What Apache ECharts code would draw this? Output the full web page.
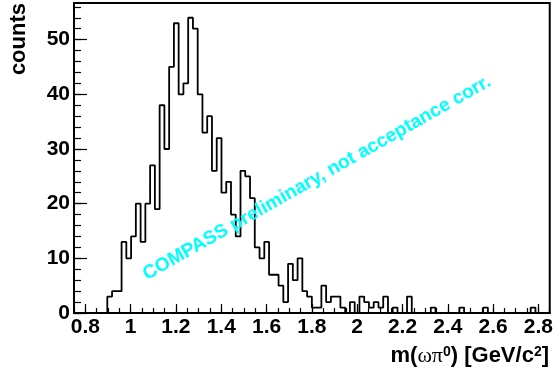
<!DOCTYPE html>
<html>
<head>
<meta charset="utf-8">
<script src="https://cdn.jsdelivr.net/npm/echarts@6.0.0/dist/echarts.min.js"></script>
<style>
  html, body { margin: 0; padding: 0; background: #fff; }
  #chart { width: 556px; height: 377px; }
</style>
</head>
<body>
<div id="chart"></div>
<script>
// m(omega pi0) spectrum: 100 bins between 0.75 and 2.85 GeV/c^2
const massMin = 0.75;
const massMax = 2.85;
const binWidth = 0.021;
const counts = [
  0, 0, 0, 0, 0, 0, 0, 3, 4, 4,
  13, 10, 14, 20, 13, 20, 27, 19, 38, 30,
  45, 53, 40, 42, 54, 52, 40, 33, 36, 26,
  32, 22, 24, 18, 14, 26, 25, 21, 12, 10,
  13, 7, 7, 5, 2, 9, 6, 10, 4, 3,
  1, 1, 5, 2, 3, 3, 1, 0, 2, 0,
  3, 2, 1, 2, 1, 3, 0, 1, 0, 0,
  3, 0, 0, 0, 0, 1, 0, 0, 0, 0,
  0, 1, 0, 0, 0, 0, 1, 0, 0, 0,
  0, 0, 0, 0, 0, 0, 1, 0, 0, 0
];
const yMax = 56.7;
const xTickLabels = [0.8, 1.0, 1.2, 1.4, 1.6, 1.8, 2.0, 2.2, 2.4, 2.6, 2.8];
const yTickLabels = [0, 10, 20, 30, 40, 50];

// minor tick positions (0.05 on x, 2 counts on y)
const xMinorTicks = [];
for (let v = 0.75; v <= massMax + 1e-9; v += 0.05) xMinorTicks.push(Math.round(v * 100) / 100);
const yMinorTicks = [];
for (let v = 0; v <= yMax; v += 2) yMinorTicks.push(v);

// histogram outline: one point at each bin's low edge, plus the closing edge
const histData = counts.map((c, i) => [massMin + i * binWidth, c]);
histData.push([massMax, counts[counts.length - 1]]);

const font = "Liberation Sans";
const labelStyle = { color: "#000", fontSize: 21, fontWeight: "bold", fontFamily: font };

const chart = echarts.init(document.getElementById("chart"), null, { renderer: "canvas" });

const option = {
  animation: false,
  backgroundColor: "#fff",
  grid: {
    left: 74, right: 5, top: 3, bottom: 64,
    show: true, borderColor: "#000", borderWidth: 2,
  },
  xAxis: [
    {
      type: "value", min: massMin, max: massMax, position: "bottom",
      axisLine: { show: true, lineStyle: { color: "#000", width: 2 } },
      axisTick: { show: true, inside: true, length: 9, customValues: xTickLabels,
        lineStyle: { color: "#000", width: 1.2 } },
      axisLabel: { ...labelStyle, customValues: xTickLabels, margin: 4,
        formatter: (v) => String(+v.toFixed(1)) },
      splitLine: { show: false },
    },
    {
      type: "value", min: massMin, max: massMax, position: "bottom",
      axisLine: { show: false },
      axisTick: { show: true, inside: true, length: 5, customValues: xMinorTicks,
        lineStyle: { color: "#000", width: 1.2 } },
      axisLabel: { show: false },
      splitLine: { show: false },
    },
  ],
  yAxis: [
    {
      type: "value", min: 0, max: yMax, position: "left",
      axisLine: { show: true, lineStyle: { color: "#000", width: 2 } },
      axisTick: { show: true, inside: true, length: 13, customValues: yTickLabels,
        lineStyle: { color: "#000", width: 1.2 } },
      axisLabel: { ...labelStyle, customValues: yTickLabels, margin: 4 },
      splitLine: { show: false },
    },
    {
      type: "value", min: 0, max: yMax, position: "left",
      axisLine: { show: false },
      axisTick: { show: true, inside: true, length: 7, customValues: yMinorTicks,
        lineStyle: { color: "#000", width: 1.2 } },
      axisLabel: { show: false },
      splitLine: { show: false },
    },
  ],
  series: [
    {
      type: "line",
      step: "end",
      symbol: "none",
      xAxisIndex: 0,
      yAxisIndex: 0,
      data: histData,
      lineStyle: { color: "#000", width: 1.8 },
      z: 3,
    },
  ],
  graphic: [
    {
      type: "text", x: 19, y: 3, rotation: Math.PI / 2,
      style: { text: "counts", font: "bold 22px '" + font + "'", fill: "#000",
        align: "right", verticalAlign: "middle", textAlign: "right", textVerticalAlign: "middle" },
    },
    {
      type: "text", x: 549, y: 356,
      style: {
        text: "{n|m(}{g|ωπ}{s|0}{n|) [GeV/c}{s|2}{n|]}",
        align: "right", verticalAlign: "middle", textAlign: "right", textVerticalAlign: "middle",
        rich: {
          n: { font: "bold 22px '" + font + "'", fill: "#000" },
          g: { font: "22px 'Liberation Serif'", fill: "#000" },
          s: { font: "bold 14px '" + font + "'", fill: "#000", verticalAlign: "top" },
        },
      },
    },
    {
      type: "text", x: 317, y: 178, rotation: 29.5 * Math.PI / 180, z: 100,
      style: { text: "COMPASS preliminary, not acceptance corr.", font: "bold 19px '" + font + "'",
        fill: "#00ffff", align: "center", verticalAlign: "middle", textAlign: "center", textVerticalAlign: "middle" },
    },
  ],
};

chart.setOption(option);
</script>
</body>
</html>
